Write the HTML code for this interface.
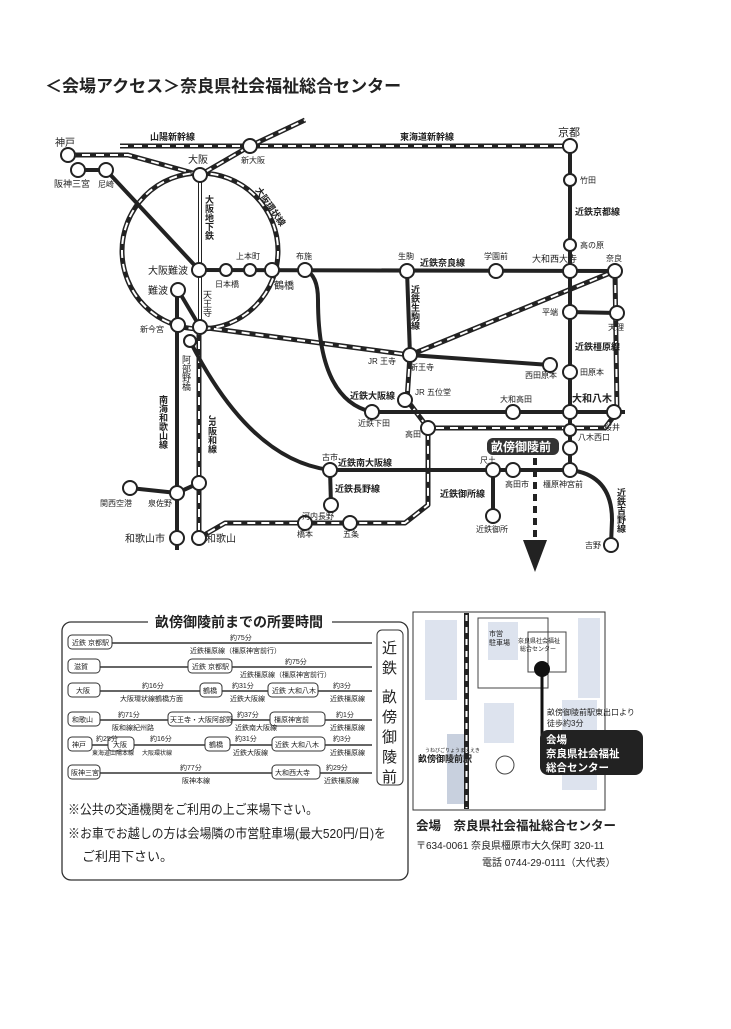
<!DOCTYPE html>
<html><head><meta charset="utf-8"><style>
body{margin:0;background:#fff;width:731px;height:1024px;overflow:hidden;font-family:"Liberation Sans","Noto Sans CJK JP",sans-serif;}
svg text{font-family:"Liberation Sans","Noto Sans CJK JP",sans-serif;fill:#222}
</style></head><body>
<svg width="731" height="1024" viewBox="0 0 731 1024" xmlns="http://www.w3.org/2000/svg">
<rect width="731" height="1024" fill="#fff"/>
<text x="45" y="92" font-size="17" font-weight="bold">＜会場アクセス＞奈良県社会福祉総合センター</text>

<g fill="none" stroke-linejoin="round">
 <g stroke="#222" stroke-width="5">
  <path d="M120 146 L570 146"/>
  <path d="M68 155 L128 155 L200 175 L250 146 L305 120"/>
  <circle cx="200" cy="251" r="78"/>
  <path d="M200 327 L410 355 L615 271"/>
  <path d="M615 271 L617 412 L605 428 L428 428"/>
  <path d="M410 355 L407 400 L428 428 L428 505 L405 523 L225 523 L199 538"/>
  <path d="M199 327 L199 545"/>
 </g>
 <g stroke="#fff" stroke-width="2" stroke-dasharray="8 6">
  <path d="M120 146 L570 146"/>
  <path d="M68 155 L128 155 L200 175 L250 146 L305 120"/>
  <circle cx="200" cy="251" r="78"/>
  <path d="M200 327 L410 355 L615 271"/>
  <path d="M615 271 L617 412 L605 428 L428 428"/>
  <path d="M410 355 L407 400 L428 428 L428 505 L405 523 L225 523 L199 538"/>
  <path d="M199 327 L199 545"/>
 </g>
 <path d="M200 175 L200 327" stroke="#222" stroke-width="4"/>
 <path d="M200 175 L200 327" stroke="#fff" stroke-width="2"/>
 <g stroke="#222" stroke-width="4">
  <path d="M78 170 L106 170 L199 270"/>
  <path d="M199 270 L615 271"/>
  <path d="M570 146 L570 470"/>
  <path d="M570 312 L617 313"/>
  <path d="M410 355 L550 365"/>
  <path d="M305 270 Q318 275 318 300 Q318 400 372 412 L625 412"/>
  <path d="M407 271 L410 355"/>
  <path d="M190 341 Q250 460 330 470 L570 470 Q612 475 612 520 L611 545"/>
  <path d="M330 470 L331 505"/>
  <path d="M493 470 L493 516"/>
  <path d="M177 290 L177 550"/>
  <path d="M178 290 L200 327"/>
  <path d="M130 488 L177 493 L199 483"/>
 </g>
</g>
<g fill="#fff" stroke="#222" stroke-width="2">
 <circle cx="68" cy="155" r="7"/><circle cx="78" cy="170" r="7"/><circle cx="106" cy="170" r="7"/>
 <circle cx="200" cy="175" r="7"/><circle cx="250" cy="146" r="7"/><circle cx="570" cy="146" r="7"/>
 <circle cx="199" cy="270" r="7"/><circle cx="226" cy="270" r="6"/><circle cx="250" cy="270" r="6"/><circle cx="272" cy="270" r="7"/><circle cx="305" cy="270" r="7"/>
 <circle cx="178" cy="290" r="7"/><circle cx="178" cy="325" r="7"/><circle cx="200" cy="327" r="7"/><circle cx="190" cy="341" r="6"/>
 <circle cx="407" cy="271" r="7"/><circle cx="496" cy="271" r="7"/><circle cx="570" cy="271" r="7"/><circle cx="615" cy="271" r="7"/>
 <circle cx="570" cy="180" r="6"/><circle cx="570" cy="245" r="6"/>
 <circle cx="410" cy="355" r="7"/><circle cx="570" cy="312" r="7"/><circle cx="617" cy="313" r="7"/><circle cx="550" cy="365" r="7"/><circle cx="570" cy="372" r="7"/>
 <circle cx="405" cy="400" r="7"/><circle cx="372" cy="412" r="7"/><circle cx="513" cy="412" r="7"/><circle cx="570" cy="412" r="7"/><circle cx="614" cy="412" r="7"/>
 <circle cx="428" cy="428" r="7"/><circle cx="570" cy="430" r="6"/><circle cx="570" cy="448" r="7"/>
 <circle cx="330" cy="470" r="7"/><circle cx="493" cy="470" r="7"/><circle cx="513" cy="470" r="7"/><circle cx="570" cy="470" r="7"/>
 <circle cx="331" cy="505" r="7"/><circle cx="493" cy="516" r="7"/><circle cx="611" cy="545" r="7"/>
 <circle cx="130" cy="488" r="7"/><circle cx="177" cy="493" r="7"/><circle cx="199" cy="483" r="7"/>
 <circle cx="177" cy="538" r="7"/><circle cx="199" cy="538" r="7"/><circle cx="305" cy="523" r="7"/><circle cx="350" cy="523" r="7"/>
</g>
<path d="M535 458 L535 540" stroke="#222" stroke-width="4" stroke-dasharray="7 5"/>
<path d="M523 540 L547 540 L535 572 Z" fill="#222"/>
<rect x="487" y="438" width="72" height="17" rx="6" fill="#333"/>
<text x="491" y="451" font-size="12" font-weight="bold" style="fill:#fff">畝傍御陵前</text>

<g font-size="8">
<text x="55" y="146" font-size="10">神戸</text><text x="54" y="187" font-size="9">阪神三宮</text><text x="98" y="187">尼崎</text>
<text x="188" y="163" font-size="10">大阪</text><text x="241" y="163">新大阪</text><text x="558" y="136" font-size="11">京都</text>
<text x="150" y="140" font-size="9" font-weight="bold">山陽新幹線</text><text x="400" y="140" font-size="9" font-weight="bold">東海道新幹線</text>
<text x="148" y="274" font-size="10">大阪難波</text><text x="148" y="294" font-size="10">難波</text><text x="140" y="332">新今宮</text>
<text x="215" y="287">日本橋</text><text x="236" y="259">上本町</text><text x="274" y="289" font-size="10">鶴橋</text><text x="296" y="259">布施</text>
<text x="398" y="259">生駒</text><text x="484" y="259">学園前</text><text x="532" y="262" font-size="9">大和西大寺</text><text x="606" y="261">奈良</text>
<text x="580" y="183">竹田</text><text x="580" y="248">高の原</text><text x="542" y="315">平端</text><text x="608" y="330">天理</text>
<text x="368" y="364">JR 王寺</text><text x="410" y="370">新王寺</text><text x="525" y="378">西田原本</text><text x="580" y="375">田原本</text>
<text x="415" y="395">JR 五位堂</text><text x="358" y="426">近鉄下田</text><text x="500" y="402">大和高田</text><text x="572" y="402" font-size="10" font-weight="bold">大和八木</text>
<text x="604" y="430">桜井</text><text x="405" y="437">高田</text><text x="578" y="440">八木西口</text>
<text x="322" y="460">古市</text><text x="480" y="463">尺土</text><text x="505" y="487">高田市</text><text x="543" y="487">橿原神宮前</text>
<text x="302" y="519">河内長野</text><text x="476" y="532">近鉄御所</text><text x="585" y="548">吉野</text>
<text x="100" y="506">関西空港</text><text x="148" y="506">泉佐野</text><text x="125" y="542" font-size="10">和歌山市</text><text x="206" y="542" font-size="10">和歌山</text>
<text x="297" y="537">橋本</text><text x="343" y="537">五条</text>
<g font-weight="bold" font-size="9">
<text x="420" y="266">近鉄奈良線</text><text x="575" y="215">近鉄京都線</text><text x="575" y="350">近鉄橿原線</text>
<text x="350" y="399">近鉄大阪線</text><text x="338" y="466">近鉄南大阪線</text><text x="335" y="492">近鉄長野線</text><text x="440" y="497">近鉄御所線</text>
</g>
<g font-weight="bold" font-size="9" writing-mode="tb">
<text x="209" y="195">大阪地下鉄</text><text x="415" y="285">近鉄生駒線</text><text x="163" y="395">南海和歌山線</text><text x="212" y="415">JR阪和線</text>
<text x="621" y="488">近鉄吉野線</text><text x="186" y="355" font-weight="normal">阿部野橋</text><text x="207" y="290" font-weight="normal">天王寺</text>
</g>
<text x="255" y="190" font-size="9" font-weight="bold" transform="rotate(55 255 190)">大阪環状線</text>
</g>

<rect x="62" y="622" width="346" height="258" rx="9" fill="none" stroke="#333" stroke-width="1.3"/>
<rect x="148" y="610" width="184" height="22" fill="#fff"/>
<text x="155" y="627" font-size="14" font-weight="bold">畝傍御陵前までの所要時間</text>
<rect x="377" y="630" width="26" height="155" rx="5" fill="#fff" stroke="#333"/>
<g font-size="15"><text x="382" y="653">近</text><text x="382" y="673">鉄</text><text x="382" y="702">畝</text><text x="382" y="722">傍</text><text x="382" y="742">御</text><text x="382" y="762">陵</text><text x="382" y="782">前</text></g>
<g stroke="#333" stroke-width="1.5" fill="#333">
 <path d="M112 643 L372 643"/><path d="M100 667 L188 667 M232 667 L372 667"/>
 <path d="M100 691 L200 691 M222 691 L268 691 M318 691 L372 691"/>
 <path d="M100 720 L168 720 M232 720 L270 720 M325 720 L372 720"/>
 <path d="M92 745 L108 745 M134 745 L205 745 M230 745 L272 745 M325 745 L372 745"/>
 <path d="M100 773 L272 773 M320 773 L372 773"/>
</g>
<g fill="#fff" stroke="#333" stroke-width="1">
 <rect x="68" y="635" width="44" height="14" rx="4"/><rect x="68" y="659" width="32" height="14" rx="4"/><rect x="188" y="659" width="44" height="14" rx="4"/>
 <rect x="68" y="683" width="32" height="14" rx="4"/><rect x="200" y="683" width="22" height="14" rx="4"/><rect x="268" y="683" width="50" height="14" rx="4"/>
 <rect x="68" y="712" width="32" height="14" rx="4"/><rect x="168" y="712" width="64" height="14" rx="4"/><rect x="270" y="712" width="55" height="14" rx="4"/>
 <rect x="68" y="737" width="24" height="14" rx="4"/><rect x="108" y="737" width="26" height="14" rx="4"/><rect x="205" y="737" width="25" height="14" rx="4"/><rect x="272" y="737" width="53" height="14" rx="4"/>
 <rect x="68" y="765" width="32" height="14" rx="4"/><rect x="272" y="765" width="48" height="14" rx="4"/>
</g>
<g font-size="7">
<text x="72" y="645">近鉄 京都駅</text><text x="74" y="669">滋賀</text><text x="192" y="669">近鉄 京都駅</text>
<text x="76" y="693">大阪</text><text x="203" y="693">鶴橋</text><text x="272" y="693">近鉄 大和八木</text>
<text x="72" y="722">和歌山</text><text x="170" y="722">天王寺・大阪阿部野</text><text x="274" y="722">橿原神宮前</text>
<text x="72" y="747">神戸</text><text x="113" y="747">大阪</text><text x="209" y="747">鶴橋</text><text x="275" y="747">近鉄 大和八木</text>
<text x="71" y="775">阪神三宮</text><text x="275" y="775">大和西大寺</text>
<text x="230" y="640">約75分</text><text x="190" y="653">近鉄橿原線（橿原神宮前行）</text>
<text x="285" y="664">約75分</text><text x="240" y="677">近鉄橿原線（橿原神宮前行）</text>
<text x="142" y="688">約16分</text><text x="120" y="701">大阪環状線鶴橋方面</text><text x="232" y="688">約31分</text><text x="230" y="701">近鉄大阪線</text><text x="333" y="688">約3分</text><text x="330" y="701">近鉄橿原線</text>
<text x="118" y="717">約71分</text><text x="112" y="730">阪和線紀州路</text><text x="237" y="717">約37分</text><text x="235" y="730">近鉄南大阪線</text><text x="336" y="717">約1分</text><text x="330" y="730">近鉄橿原線</text>
<text x="96" y="741">約25分</text><text x="92" y="755" font-size="6">東海道山陽本線</text><text x="150" y="741">約16分</text><text x="142" y="755" font-size="6">大阪環状線</text><text x="235" y="741">約31分</text><text x="233" y="755">近鉄大阪線</text><text x="333" y="741">約3分</text><text x="330" y="755">近鉄橿原線</text>
<text x="180" y="770">約77分</text><text x="182" y="783">阪神本線</text><text x="326" y="770">約29分</text><text x="324" y="783">近鉄橿原線</text>
</g>
<g font-size="13"><text x="68" y="814" textLength="250" lengthAdjust="spacingAndGlyphs">※公共の交通機関をご利用の上ご来場下さい。</text>
<text x="68" y="838" textLength="318" lengthAdjust="spacingAndGlyphs">※お車でお越しの方は会場隣の市営駐車場(最大520円/日)を</text>
<text x="82" y="861">ご利用下さい。</text></g>

<rect x="413" y="612" width="192" height="198" fill="#fff" stroke="#333"/>
<g fill="#dde3ee">
 <rect x="425" y="620" width="32" height="80"/><rect x="488" y="622" width="30" height="38"/><rect x="578" y="618" width="22" height="80"/>
 <rect x="484" y="703" width="30" height="40"/><rect x="447" y="734" width="20" height="70" fill="#c8d0de"/><rect x="562" y="700" width="35" height="90"/>
</g>
<rect x="464" y="613" width="5" height="196" fill="#222"/><path d="M466.5 615 L466.5 808" stroke="#fff" stroke-width="2" stroke-dasharray="6 6"/>
<g fill="none" stroke="#444" stroke-width="1"><rect x="478" y="618" width="70" height="70"/><rect x="528" y="632" width="38" height="40"/><circle cx="505" cy="765" r="9"/></g>
<circle cx="542" cy="669" r="8" fill="#111"/><path d="M542 675 L542 735" stroke="#111" stroke-width="3"/>
<text x="489" y="636" font-size="7">市営</text><text x="489" y="645" font-size="7">駐車場</text>
<text x="518" y="643" font-size="6">奈良県社会福祉</text><text x="520" y="651" font-size="6">総合センター</text>
<text x="547" y="715" font-size="8">畝傍御陵前駅東出口より</text><text x="547" y="726" font-size="8">徒歩約3分</text>
<rect x="540" y="730" width="103" height="45" rx="8" fill="#222"/>
<text x="546" y="743" font-size="10.5" font-weight="bold" style="fill:#fff">会場</text><text x="546" y="757" font-size="10.5" font-weight="bold" style="fill:#fff">奈良県社会福祉</text><text x="546" y="771" font-size="10.5" font-weight="bold" style="fill:#fff">総合センター</text>
<text x="425" y="752" font-size="5">うねびごりょうまええき</text><text x="418" y="762" font-size="9" font-weight="bold">畝傍御陵前駅</text>
<text x="416" y="830" font-size="12.5" font-weight="bold">会場　奈良県社会福祉総合センター</text>
<text x="416" y="849" font-size="10">〒634-0061 奈良県橿原市大久保町 320-11</text>
<text x="482" y="866" font-size="10">電話 0744-29-0111（大代表）</text>
</svg>
</body></html>
